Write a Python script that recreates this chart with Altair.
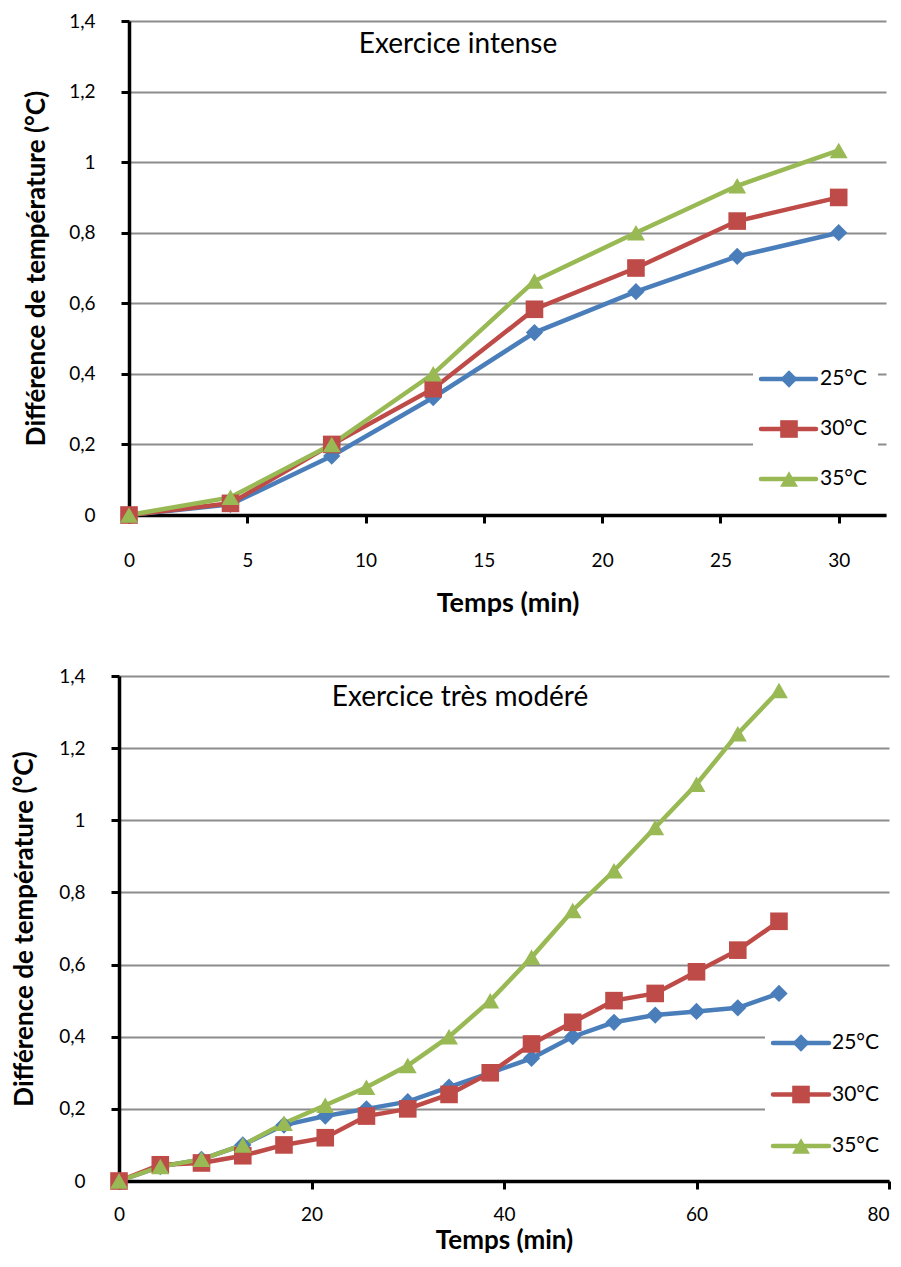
import altair as alt
import pandas as pd

FONT = "Lato"

series = ["25°C", "30°C", "35°C"]
colors = ["#4A7EBB", "#BE4B48", "#98B954"]
shapes = ["diamond", "square", "triangle-up"]
sizes = [300, 320, 380]

# Exercice intense
t_int = [0, 4.29, 8.57, 12.86, 17.14, 21.43, 25.71, 30]
int_25 = [0, 0.03, 0.167, 0.333, 0.517, 0.633, 0.733, 0.8]
int_30 = [0, 0.033, 0.2, 0.358, 0.583, 0.7, 0.833, 0.9]
int_35 = [0, 0.05, 0.2, 0.4, 0.663, 0.8, 0.933, 1.033]

# Exercice très modéré
t_mod = [0, 4.29, 8.57, 12.86, 17.14, 21.43, 25.71, 30, 34.29, 38.57,
         42.86, 47.14, 51.43, 55.71, 60, 64.29, 68.57]
mod_25 = [0, 0.04, 0.06, 0.10, 0.155, 0.18, 0.20, 0.22, 0.26, 0.30,
          0.34, 0.40, 0.44, 0.46, 0.47, 0.48, 0.52]
mod_30 = [0, 0.045, 0.05, 0.07, 0.10, 0.12, 0.18, 0.20, 0.24, 0.30,
          0.38, 0.44, 0.50, 0.52, 0.58, 0.64, 0.72]
mod_35 = [0, 0.04, 0.06, 0.10, 0.16, 0.21, 0.26, 0.32, 0.40, 0.50,
          0.62, 0.75, 0.86, 0.98, 1.10, 1.24, 1.36]

y_ticks = [0, 0.2, 0.4, 0.6, 0.8, 1.0, 1.2, 1.4]


def long_df(t, ys):
    rows = []
    for name, vals in zip(series, ys):
        for tt, v in zip(t, vals):
            rows.append({"t": tt, "v": v, "serie": name})
    return pd.DataFrame(rows)


def panel(df, w, h, x0, xmax, xticks, last_tick, title, tpos, leg, box,
          x_label_pad, x_title_y, x_title_size, y_title_x):
    color = alt.Color("serie:N", scale=alt.Scale(domain=series, range=colors), legend=None)
    shape = alt.Shape("serie:N", scale=alt.Scale(domain=series, range=shapes), legend=None)
    size = alt.Size("serie:N", scale=alt.Scale(domain=series, range=sizes), legend=None)
    x = alt.X("t:Q", scale=alt.Scale(domain=[0, xmax], range=[x0, w], nice=False, zero=True),
              axis=alt.Axis(values=xticks, title="Temps (min)", grid=False,
                            domainColor="black", domainWidth=3.5, tickColor="black",
                            tickWidth=3, tickSize=8, labelPadding=x_label_pad,
                            labelAlign=alt.ExprRef(
                                expr=f"datum.value == {last_tick} ? 'right' : 'center'"),
                            titleY=x_title_y, titleBaseline="middle",
                            titleFontSize=x_title_size))
    y = alt.Y("v:Q", scale=alt.Scale(domain=[0, 1.4], nice=False),
              axis=alt.Axis(values=y_ticks, title="Différence de température (°C)",
                            grid=True, gridColor="#8C8C8C", gridWidth=2,
                            domainColor="black", domainWidth=3.5, tickColor="black",
                            tickWidth=3, tickSize=8, labelPadding=26, offset=-x0,
                            labelExpr="replace(format(datum.value, '.1~f'), '.', ',')",
                            titleX=y_title_x, titleBaseline="bottom"))
    base = alt.Chart(df)
    lines = base.mark_line(strokeWidth=4.5).encode(x=x, y=y, color=color, detail="serie:N")
    pts = base.mark_point(filled=True, opacity=1).encode(x=x, y=y, color=color, shape=shape, size=size)
    main = alt.layer(lines, pts)

    one = alt.Data(values=[{"a": 1}])
    ttl = alt.Chart(one).mark_text(font=FONT, fontSize=28, color="black", align="center",
                                    baseline="middle").encode(
        x=alt.value(tpos[0]), y=alt.value(tpos[1]), text=alt.value(title))
    bg = alt.Chart(one).mark_rect(color="white").encode(
        x=alt.value(box[0]), x2=alt.value(box[1]), y=alt.value(box[2]), y2=alt.value(box[3]))

    ldf = pd.DataFrame({"serie": series})
    ly = alt.Y("serie:N", scale=alt.Scale(type="point", domain=series, range=[leg[0], leg[1]],
                                          padding=0), axis=None)
    lcolor = alt.Color("serie:N", scale=alt.Scale(domain=series, range=colors), legend=None)
    lrule = alt.Chart(ldf).mark_rule(strokeWidth=4.5, strokeCap="round").encode(
        x=alt.value(leg[2]), x2=alt.value(leg[3]), y=ly, color=lcolor)
    lpts = alt.Chart(ldf).mark_point(filled=True, opacity=1).encode(
        x=alt.value(leg[4]), y=ly, color=lcolor, shape=shape, size=size)
    ltxt = alt.Chart(ldf).mark_text(font=FONT, fontSize=21, align="left", baseline="middle",
                                    color="black").encode(
        x=alt.value(leg[5]), y=ly, text="serie:N")
    legend = alt.layer(lrule, lpts, ltxt)

    return alt.layer(bg, main, ttl, legend).resolve_scale(y="independent").properties(
        width=w, height=h)


# top: plot from page x 128 to 885, origin shared with bottom chart at page x 118
top = panel(long_df(t_int, [int_25, int_30, int_35]), 767, 494, 10, 32,
            [0, 5, 10, 15, 20, 25, 30], 999, "Exercice intense", (339, 24),
            (358, 458, 642, 697, 670, 701), (634, 759, 335, 480), 28, 88, 27, -80)
bottom = panel(long_df(t_mod, [mod_25, mod_30, mod_35]), 770, 505, 0, 80,
               [0, 20, 40, 60, 80], 80, "Exercice très modéré", (341, 22),
               (367, 470, 654, 710, 682, 713), (646, 771, 345, 490), 16, 59, 26, -82)

chart = alt.concat(top, bottom, columns=1, spacing=51).properties(
    padding={"left": 2, "top": 4, "right": 0, "bottom": 0}
).configure_view(stroke=None).configure_axis(
    labelFont=FONT, labelFontSize=19, labelColor="black",
    titleFont=FONT, titleFontSize=26, titleFontWeight="bold", titleColor="black")

chart.save("out.html", embed_options={"renderer": "svg", "actions": False})
